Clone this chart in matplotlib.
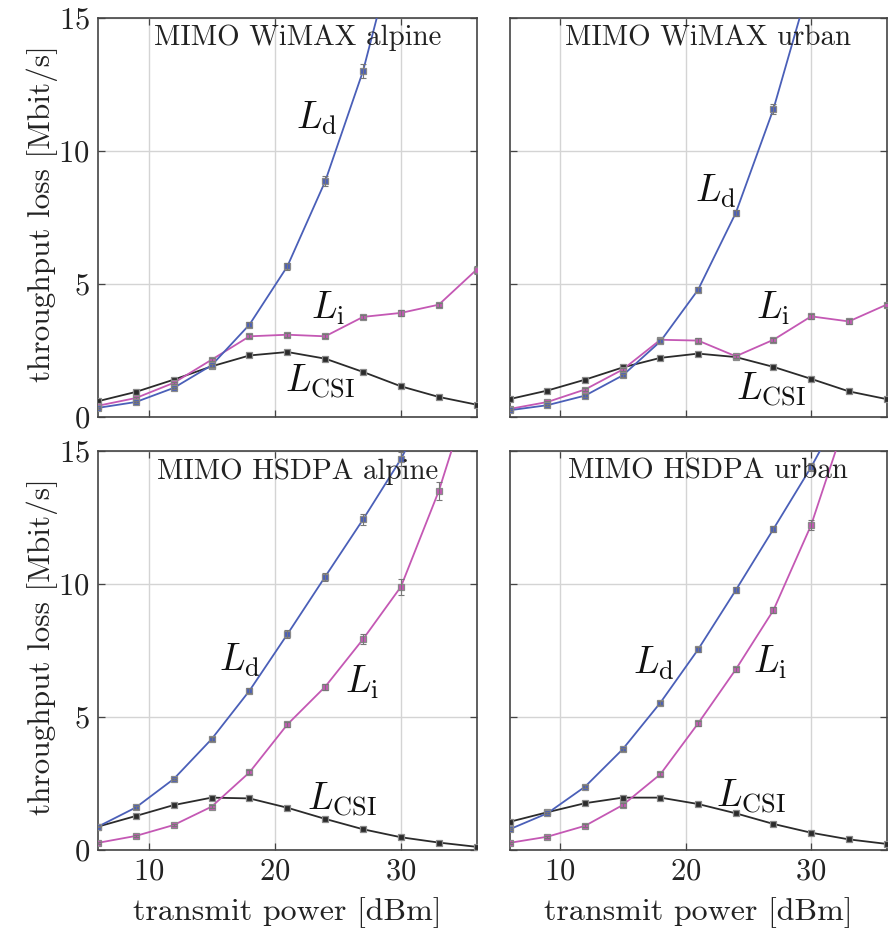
import matplotlib
matplotlib.use("Agg")
import matplotlib.pyplot as plt
import numpy as np

### fonts: computer modern look
plt.rcParams['font.family'] = 'serif'
plt.rcParams['font.serif'] = ['cmr10', 'DejaVu Serif']
plt.rcParams['mathtext.fontset'] = 'cm'
plt.rcParams['axes.formatter.use_mathtext'] = True

### data
power = [6, 9, 12, 15, 18, 21, 24, 27, 30, 33, 36]  # transmit power [dBm]

panel_titles = ["MIMO WiMAX alpine", "MIMO WiMAX urban",
                "MIMO HSDPA alpine", "MIMO HSDPA urban"]

# throughput loss [Mbit/s], one list per panel
ld_wimax_alpine = [0.33, 0.55, 1.08, 1.93, 3.46, 5.65, 8.85, 13.0, 18.5, 25.0, 32.0]
li_wimax_alpine = [0.41, 0.70, 1.27, 2.14, 3.02, 3.08, 3.02, 3.75, 3.90, 4.21, 5.53]
lcsi_wimax_alpine = [0.58, 0.93, 1.39, 1.89, 2.30, 2.43, 2.18, 1.68, 1.14, 0.74, 0.45]

ld_wimax_urban = [0.24, 0.43, 0.79, 1.55, 2.83, 4.77, 7.66, 11.57, 16.5, 22.0, 28.0]
li_wimax_urban = [0.29, 0.55, 1.02, 1.77, 2.89, 2.86, 2.27, 2.89, 3.77, 3.58, 4.21]
lcsi_wimax_urban = [0.66, 0.98, 1.39, 1.85, 2.21, 2.37, 2.24, 1.87, 1.42, 0.95, 0.66]

ld_hsdpa_alpine = [0.88, 1.60, 2.67, 4.17, 5.99, 8.11, 10.28, 12.43, 14.7, 17.5, 20.5]
li_hsdpa_alpine = [0.27, 0.53, 0.94, 1.63, 2.92, 4.72, 6.14, 7.93, 9.90, 13.5, 18.0]
lcsi_hsdpa_alpine = [0.88, 1.28, 1.69, 1.97, 1.94, 1.59, 1.17, 0.78, 0.48, 0.28, 0.12]

ld_hsdpa_urban = [0.78, 1.38, 2.38, 3.79, 5.54, 7.54, 9.77, 12.07, 14.4, 17.0, 19.5]
li_hsdpa_urban = [0.27, 0.50, 0.91, 1.69, 2.85, 4.76, 6.79, 9.02, 12.22, 16.5, 21.0]
lcsi_hsdpa_urban = [1.06, 1.42, 1.76, 1.97, 1.97, 1.73, 1.38, 0.98, 0.65, 0.40, 0.23]

# error bar half widths (small, only visible on the big values)
err_ld_wimax_alpine = [0.03, 0.04, 0.05, 0.06, 0.08, 0.12, 0.18, 0.25, 0.3, 0.3, 0.3]
err_li_wimax_alpine = [0.03, 0.04, 0.05, 0.06, 0.07, 0.08, 0.08, 0.08, 0.1, 0.08, 0.15]
err_ld_wimax_urban = [0.03, 0.04, 0.05, 0.06, 0.08, 0.1, 0.12, 0.2, 0.3, 0.3, 0.3]
err_li_wimax_urban = [0.03, 0.04, 0.05, 0.06, 0.07, 0.08, 0.06, 0.07, 0.1, 0.1, 0.08]
err_ld_hsdpa_alpine = [0.03, 0.04, 0.05, 0.08, 0.1, 0.15, 0.15, 0.2, 0.25, 0.3, 0.3]
err_li_hsdpa_alpine = [0.03, 0.04, 0.05, 0.06, 0.08, 0.1, 0.12, 0.2, 0.3, 0.35, 0.35]
err_ld_hsdpa_urban = [0.03, 0.04, 0.05, 0.06, 0.08, 0.08, 0.1, 0.12, 0.15, 0.2, 0.2]
err_li_hsdpa_urban = [0.03, 0.04, 0.05, 0.06, 0.07, 0.08, 0.1, 0.12, 0.2, 0.25, 0.3]

panels = [
    (ld_wimax_alpine, li_wimax_alpine, lcsi_wimax_alpine, err_ld_wimax_alpine, err_li_wimax_alpine),
    (ld_wimax_urban, li_wimax_urban, lcsi_wimax_urban, err_ld_wimax_urban, err_li_wimax_urban),
    (ld_hsdpa_alpine, li_hsdpa_alpine, lcsi_hsdpa_alpine, err_ld_hsdpa_alpine, err_li_hsdpa_alpine),
    (ld_hsdpa_urban, li_hsdpa_urban, lcsi_hsdpa_urban, err_ld_hsdpa_urban, err_li_hsdpa_urban),
]

# where the curve names sit, (x, y) in data units: Ld, Li, Lcsi
label_pos = [
    [(23.3, 11.2), (24.2, 4.06), (23.6, 1.32)],
    [(22.4, 8.46), (27.0, 4.06), (26.8, 1.0)],
    [(17.2, 7.14), (26.9, 6.3), (25.3, 1.88)],
    [(17.5, 7.03), (26.7, 7.07), (25.2, 1.99)],
]

col_d = '#4a5fb8'
col_i = '#c458b4'
col_csi = '#2b2b2b'
grid_col = '#d4d4d4'
spine_col = '#444444'

fig = plt.figure(figsize=(8.91, 9.30), dpi=100)
ax_rects = [
    [0.110, 0.552, 0.425, 0.429],
    [0.572, 0.552, 0.423, 0.429],
    [0.110, 0.086, 0.425, 0.429],
    [0.572, 0.086, 0.423, 0.429],
]

for k in range(4):
    ax = fig.add_axes(ax_rects[k])
    ld, li, lcsi, eld, eli = panels[k]

    ### curves with markers + small error bars
    for vals, err, col in [(lcsi, None, col_csi), (li, eli, col_i), (ld, eld, col_d)]:
        ax.plot(power, vals, '-', color=col, lw=1.3, zorder=3)
        ax.plot(power, vals, 's', ms=4.2, mfc=col, mec='#8a8a8a', mew=0.9, zorder=4)
        if err is not None:
            ax.errorbar(power, vals, yerr=err, fmt='none', ecolor='#777777',
                        elinewidth=0.8, capsize=2.2, capthick=0.8, zorder=4)

    ax.set_xlim(6, 36)
    ax.set_ylim(0, 15)
    ax.set_xticks([10, 20, 30])
    ax.set_yticks([0, 5, 10, 15])
    ax.grid(True, color=grid_col, lw=1.0, zorder=0)
    ax.set_axisbelow(True)
    ax.tick_params(direction='in', length=5, width=0.9, colors=spine_col,
                   labelcolor='#222222', labelsize=22, top=True, right=True, pad=6)
    for s in ax.spines.values():
        s.set_color(spine_col)
        s.set_linewidth(1.2)

    if k % 2 == 0:
        ax.set_ylabel('throughput loss [Mbit/s]', fontsize=22.5, color='#222222')
        ax.yaxis.set_label_coords(-0.105, 0.51)
    else:
        ax.set_yticklabels([])
    if k >= 2:
        ax.set_xlabel('transmit power [dBm]', fontsize=23, color='#222222')
        ax.xaxis.set_label_coords(0.5, -0.118)
    else:
        ax.set_xticklabels([])

    ax.text(0.527, 0.982, panel_titles[k], transform=ax.transAxes,
            ha='center', va='top', fontsize=20.8, color='#222222', zorder=5)

    names = [r'$L_{\mathrm{d}}$', r'$L_{\mathrm{i}}$', r'$L_{\mathrm{CSI}}$']
    for (tx, ty), nm in zip(label_pos[k], names):
        ax.text(tx, ty, nm, ha='center', va='center', fontsize=27, color='#111111', zorder=5)

fig.savefig('out.png', dpi=100)
